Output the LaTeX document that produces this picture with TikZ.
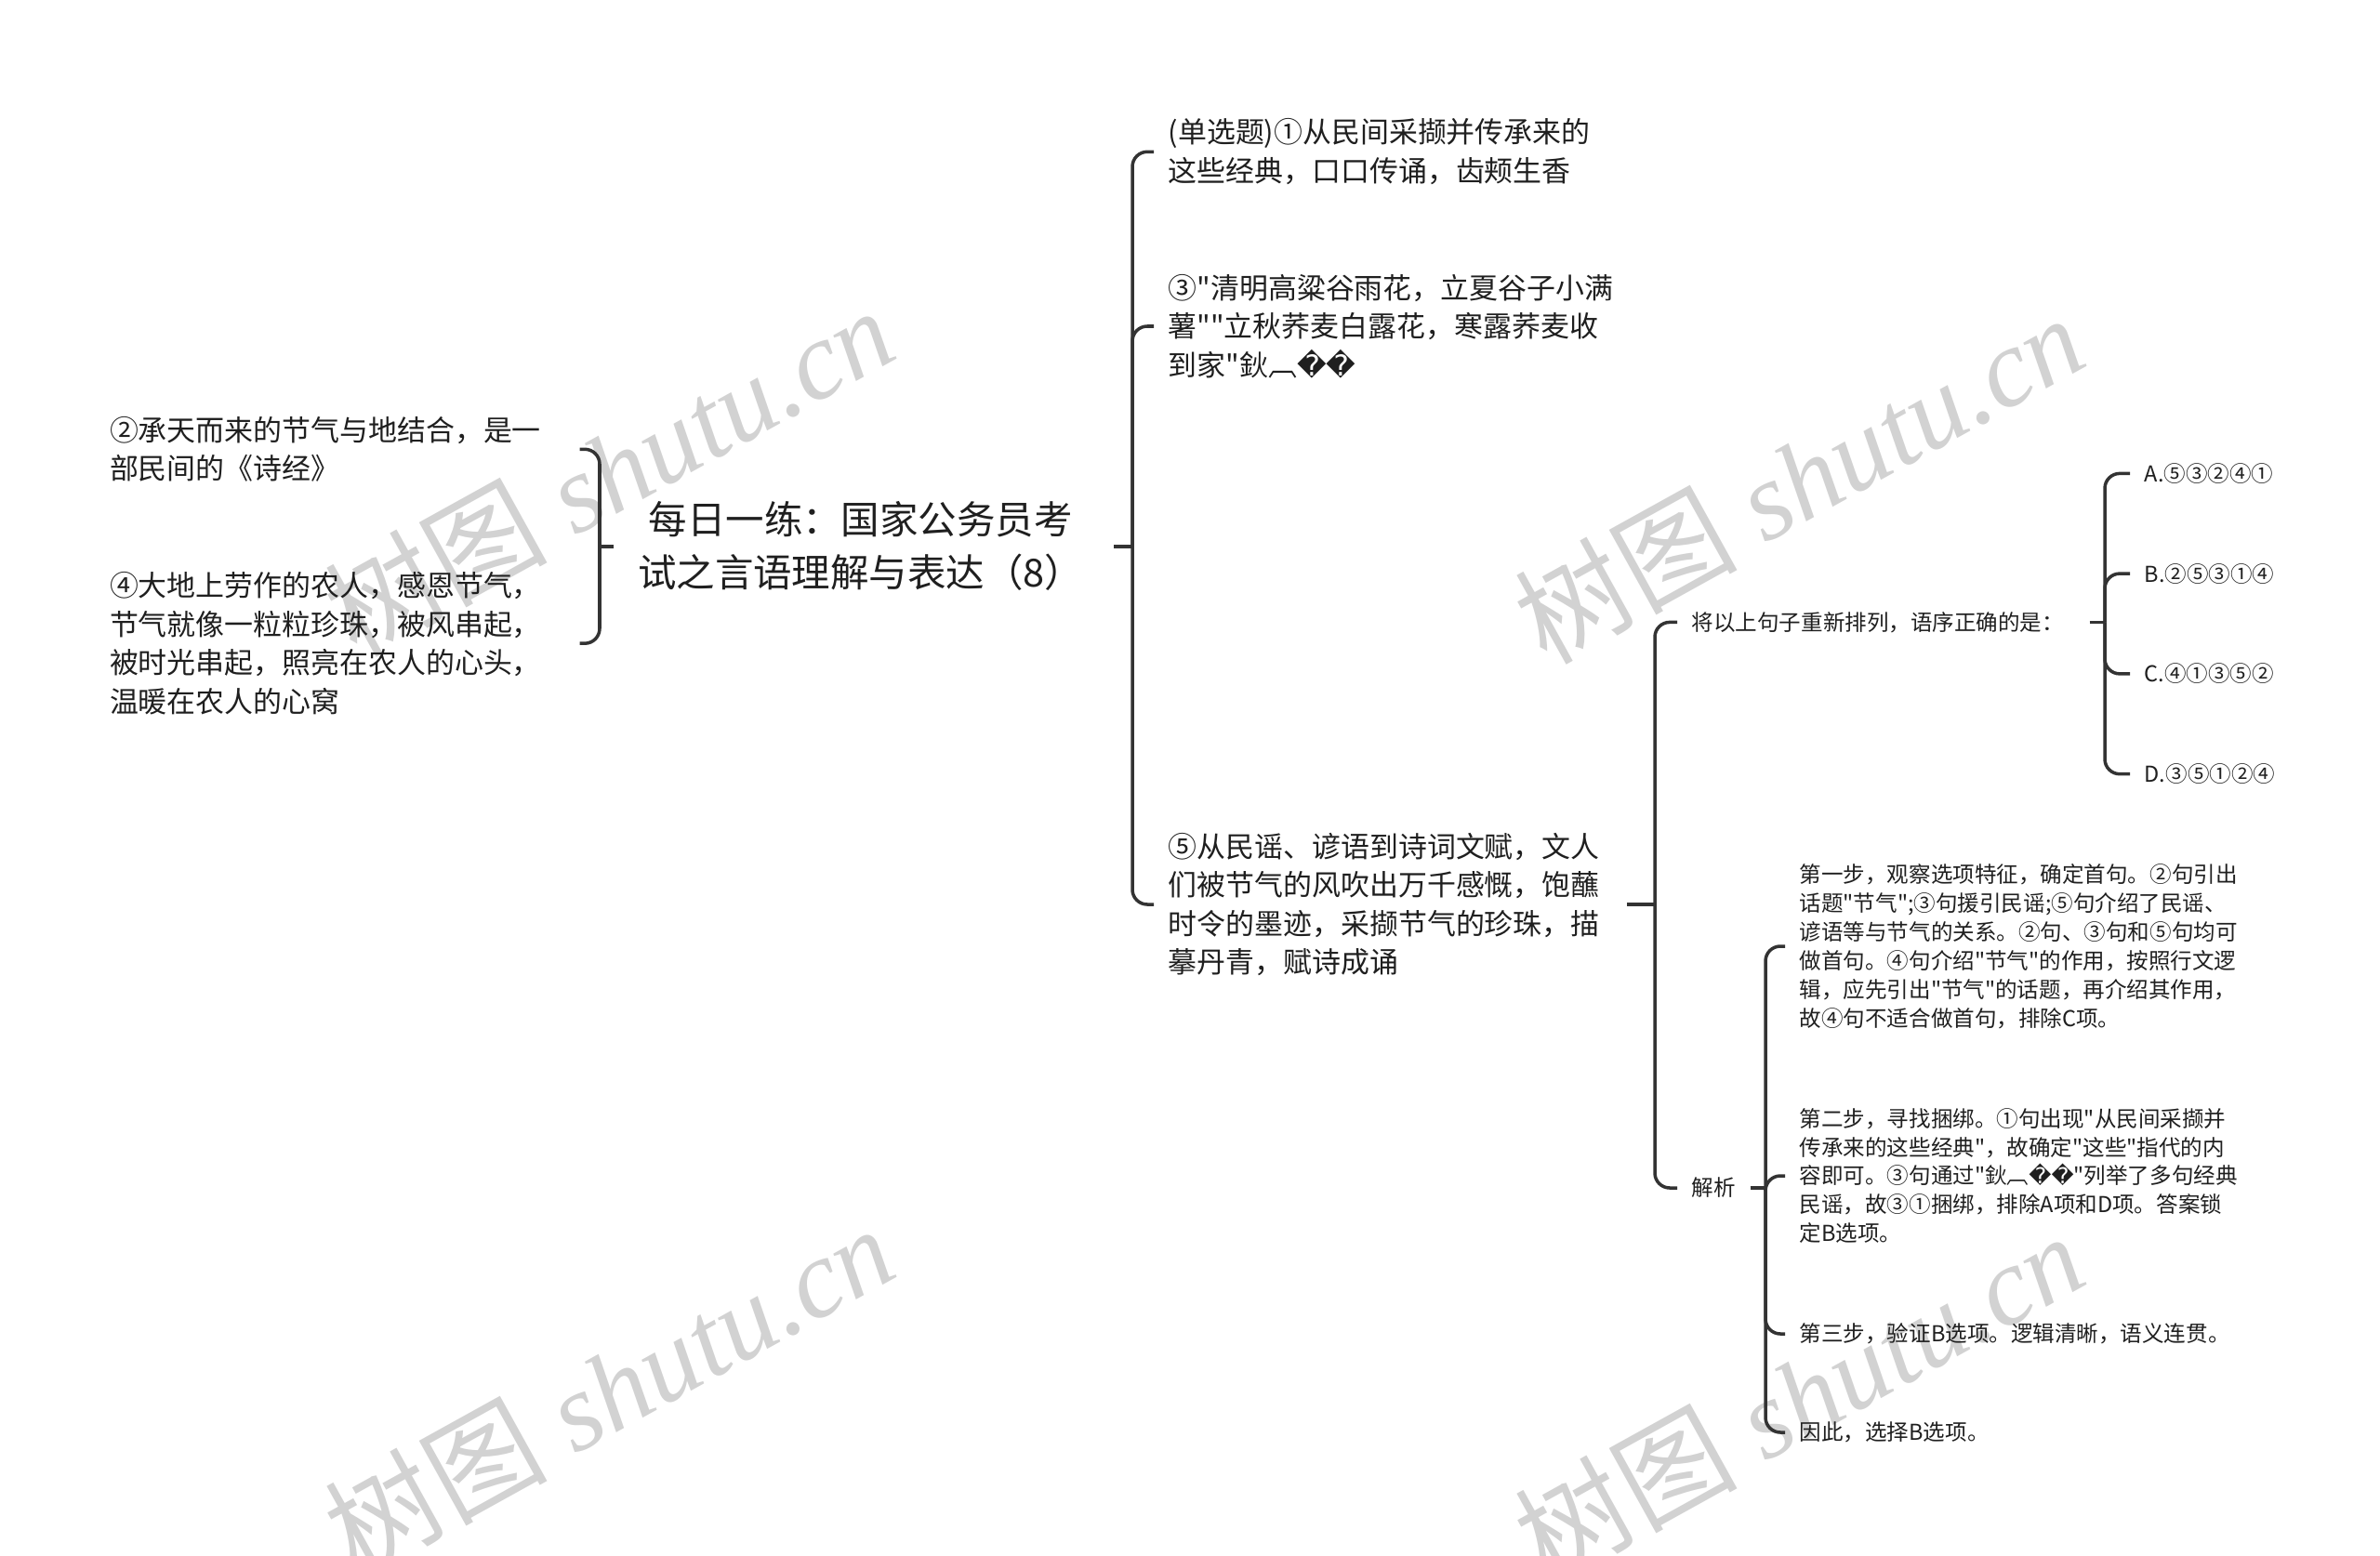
\documentclass[tikz,border=0pt]{standalone}
\usepackage{fontspec}
\newfontfamily\cjk{Noto Sans CJK SC}
\newfontfamily\symfont{DejaVu Sans}
\newfontfamily\markfont{Liberation Serif}
\newcommand{\badglyph}{{\symfont\char"FFFD}}
\definecolor{linegray}{HTML}{333333}
\definecolor{markgray}{HTML}{D2D2D2}

\begin{document}
\begin{tikzpicture} [
        every node/.style = {
          text = black!88,
          inner ysep = 2pt,
        },
        rootbox/.style = {
          align = center,
          inner xsep = 0.25cm,
          font = \cjk\fontsize{11.8pt}{16.2pt}\selectfont,
        },
        topicbox/.style = {
          align = left,
          anchor = west,
          inner xsep = 0.15cm,
          font = \cjk\fontsize{8.8pt}{11.8pt}\selectfont,
        },
        leftbox/.style = {
          topicbox,
          anchor = east,
          text width = 4.9cm,
        },
        smallbox/.style = {
          topicbox,
          font = \cjk\fontsize{6.7pt}{8.8pt}\selectfont,
        },
        branch/.style = {
          draw = linegray,
          line width = 1pt,
        },
        hook/.style = {
          branch,
          rounded corners = 0.16cm,
        },
        watermark/.style = {
          text = markgray,
          rotate = 29,
          font = \markfont\itshape\fontsize{34pt}{34pt}\selectfont,
        },
      ]
    \useasboundingbox (0,0) rectangle (25.6,-16.74);

    % watermarks
    \node [watermark] (markOne) at (6.55,-5.06) {{\cjk 树图} shutu.cn};
    \node [watermark] (markTwo) at (19.35,-5.14) {{\cjk 树图} shutu.cn};
    \node [watermark] (markThree) at (6.55,-14.94) {{\cjk 树图} shutu.cn};
    \node [watermark] (markFour) at (19.35,-15.02) {{\cjk 树图} shutu.cn};

    % textboxes
    \node [rootbox] (rootTopic) at (9.257,-5.878) {每日一练：国家公务员考\\试之言语理解与表达（8）};

    \node [leftbox] (leftTwo) at (6.237,-4.833) {②承天而来的节气与地结合，是一\\部民间的《诗经》};
    \node [leftbox] (leftFour) at (6.237,-6.922) {④大地上劳作的农人，感恩节气，\\节气就像一粒粒珍珠，被风串起，\\被时光串起，照亮在农人的心头，\\温暖在农人的心窝};

    \node [topicbox] (stemOne) at (12.41,-1.633) {(单选题)①从民间采撷并传承来的\\这些经典，口口传诵，齿颊生香};
    \node [topicbox] (stemThree) at (12.41,-3.51) {③"清明高粱谷雨花，立夏谷子小满\\薯""立秋荞麦白露花，寒露荞麦收\\到家"鈥︹\badglyph\badglyph};
    \node [topicbox] (stemFive) at (12.41,-9.73) {⑤从民谣、谚语到诗词文赋，文人\\们被节气的风吹出万千感慨，饱蘸\\时令的墨迹，采撷节气的珍珠，描\\摹丹青，赋诗成诵};

    \node [smallbox] (sortTask) at (18.04,-6.694) {将以上句子重新排列，语序正确的是：};
    \node [smallbox] (optA) at (22.91,-5.094) {A.⑤③②④①};
    \node [smallbox] (optB) at (22.91,-6.171) {B.②⑤③①④};
    \node [smallbox] (optC) at (22.91,-7.249) {C.④①③⑤②};
    \node [smallbox] (optD) at (22.91,-8.327) {D.③⑤①②④};

    \node [smallbox] (analysis) at (18.04,-12.78) {解析};
    \node [smallbox] (stepOne) at (19.20,-10.18) {第一步，观察选项特征，确定首句。②句引出\\话题"节气";③句援引民谣;⑤句介绍了民谣、\\谚语等与节气的关系。②句、③句和⑤句均可\\做首句。④句介绍"节气"的作用，按照行文逻\\辑，应先引出"节气"的话题，再介绍其作用，\\故④句不适合做首句，排除C项。};
    \node [smallbox] (stepTwo) at (19.20,-12.65) {第二步，寻找捆绑。①句出现"从民间采撷并\\传承来的这些经典"，故确定"这些"指代的内\\容即可。③句通过"鈥︹\badglyph\badglyph"列举了多句经典\\民谣，故③①捆绑，排除A项和D项。答案锁\\定B选项。};
    \node [smallbox] (stepThree) at (19.20,-14.35) {第三步，验证B选项。逻辑清晰，语义连贯。};
    \node [smallbox] (stepFour) at (19.20,-15.41) {因此，选择B选项。};

    % joints
    \coordinate (rootJoint) at (12.18,-5.878);
    \coordinate (leftJoint) at (6.45,-5.878);
    \coordinate (fiveJoint) at (17.80,-9.73);
    \coordinate (sortJoint) at (22.64,-6.694);
    \coordinate (analysisJoint) at (18.99,-12.78);

    \draw[branch] (rootTopic.east) ++(0.07,0) -- (rootJoint);
    \draw[hook] (rootJoint) |- (stemOne.west);
    \draw[hook] (rootJoint) |- (stemThree.west);
    \draw[hook] (rootJoint) |- (stemFive.west);

    \draw[branch] (rootTopic.west) -- (leftJoint);
    \draw[hook] (leftJoint) |- (leftTwo.east);
    \draw[hook] (leftJoint) |- (leftFour.east);

    \draw[branch] (stemFive.east) ++(0.14,0) -- (fiveJoint);
    \draw[hook] (fiveJoint) |- (sortTask.west);
    \draw[hook] (fiveJoint) |- (analysis.west);

    \draw[branch] (sortTask.east) ++(0.12,0) -- (sortJoint);
    \draw[hook] (sortJoint) |- (optA.west);
    \draw[hook] (sortJoint) |- (optB.west);
    \draw[hook] (sortJoint) |- (optC.west);
    \draw[hook] (sortJoint) |- (optD.west);

    \draw[branch] (analysis.east) -- (analysisJoint);
    \draw[hook] (analysisJoint) |- (stepOne.west);
    \draw[hook] (analysisJoint) |- (stepTwo.west);
    \draw[hook] (analysisJoint) |- (stepThree.west);
    \draw[hook] (analysisJoint) |- (stepFour.west);
  \end{tikzpicture}
\end{document}
